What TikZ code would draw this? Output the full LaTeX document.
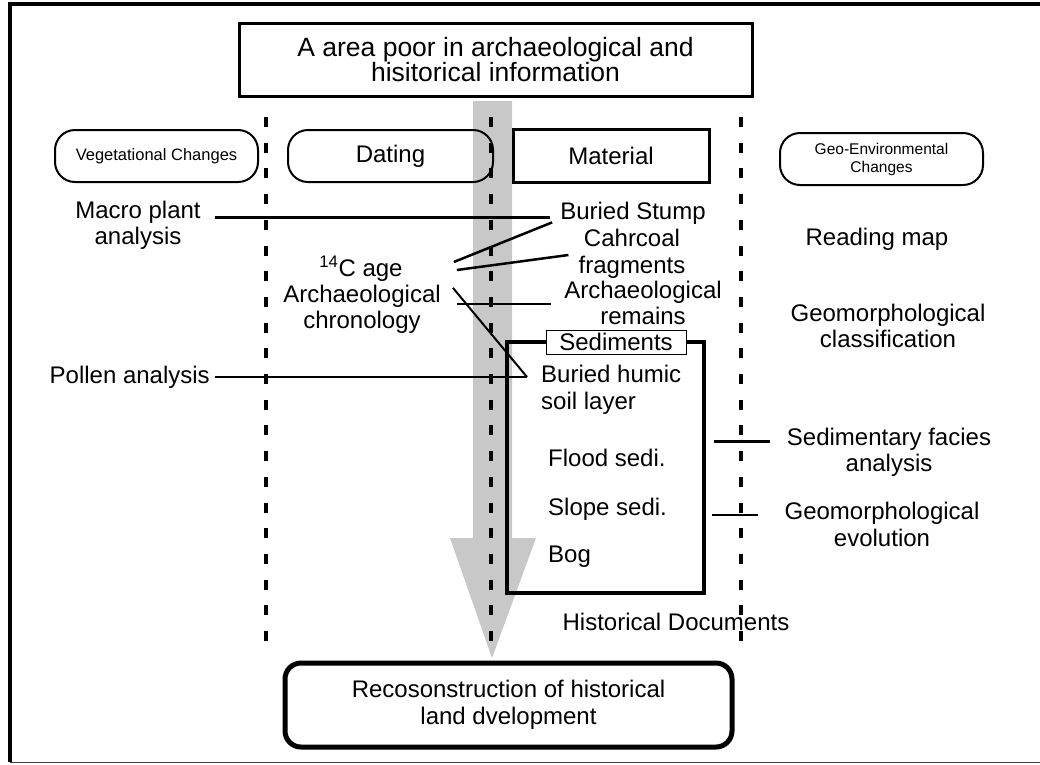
\documentclass[tikz,border=0pt]{standalone}
\usepackage{fontspec}
\setmainfont{Liberation Sans}
\usetikzlibrary{calc}
\definecolor{band}{RGB}{200,200,200}
\begin{document}
\begin{tikzpicture}[x=1pt,y=-1pt,
  txt/.style={inner sep=0pt, align=center, font=\fontsize{24}{26.5}\selectfont},
  smalltxt/.style={inner sep=0pt, align=center, font=\fontsize{16}{18}\selectfont},
  sepline/.style={line width=4pt, dash pattern=on 10pt off 15.7pt},
  roundbox/.style={draw, line width=2pt, rounded corners=20pt, minimum height=52pt, inner sep=0pt},
  sqbox/.style={draw, line width=3pt, inner sep=0pt},
  conn/.style={line width=2.5pt},
  thinconn/.style={line width=2pt},
]
\useasboundingbox (0,0) rectangle (1040,764);
% frame (left and top thick, bottom thin)
\draw[line width=3.5pt] (1040,4) -- (10,4) -- (10,762);
\draw[line width=1.5pt, black!75] (10,762.5) -- (1040,762.5);
% gray arrow
\fill[band] (473,101) -- (512,101) -- (512,538) -- (536,538) -- (492,658) -- (450,538) -- (473,538) -- cycle;
% separators
\draw[sepline] (266,117) -- (266,648);
\draw[sepline] (491,117) -- (491,648);
\draw[sepline] (741,117) -- (741,648);

% boxes
\node[sqbox, minimum width=513pt, minimum height=73pt, txt, font=\fontsize{26.5}{25}\selectfont] (top) at (495.5,59.5) {A area poor in archaeological and\\hisitorical information};
\node[roundbox, minimum width=203pt, smalltxt, font=\fontsize{16.5}{18}\selectfont] (veg) at (156.5,156) {Vegetational Changes};
\node[roundbox, minimum width=205pt, txt] (dating) at (390.5,156) {Dating};
\node[sqbox, minimum width=196pt, minimum height=53pt, txt] (material) at (611,155.5) {Material};
\node[roundbox, minimum width=203pt, smalltxt, font=\fontsize{15.5}{18}\selectfont] (geo) at (881.5,159) {Geo-Environmental\\Changes};
\node[draw, line width=4pt, minimum width=197pt, minimum height=251pt, inner sep=0pt] (sed) at (605.5,467.5) {};
\node[draw, line width=1pt, fill=white, minimum width=140pt, minimum height=24pt, inner sep=0pt, txt] (sedlabel) at (616,342) {Sediments};
\node[draw, line width=5pt, rounded corners=16pt, minimum width=447pt, minimum height=84pt, inner sep=0pt, txt] (recon) at (508.5,705) {Recosonstruction of historical\\land dvelopment};

% texts
\node[txt] (macro) at (138,225.5) {Macro plant\\analysis};
\node[txt, anchor=east] (pollen) at (210,377) {Pollen analysis};
\node[txt] (c14) at (361,269) {\textsuperscript{14}C age};
\node[txt] (chron) at (362,309.5) {Archaeological\\chronology};
\node[txt] (stump) at (633,213) {Buried Stump};
\node[txt] (charcoal) at (632,254) {Cahrcoal\\fragments};
\node[txt] (remains) at (643,303) {Archaeological\\remains};
\node[txt, anchor=west, align=left] (humic) at (541,390) {Buried humic\\soil layer};
\node[txt, anchor=west] (flood) at (548,458) {Flood sedi.};
\node[txt, anchor=west] (slope) at (548,509) {Slope sedi.};
\node[txt, anchor=west] (bog) at (548,557) {Bog};
\node[txt] (readmap) at (877,239) {Reading map};
\node[txt] (geoclass) at (888,326) {Geomorphological\\classification};
\node[txt] (sedfac) at (889,452.5) {Sedimentary facies\\analysis};
\node[txt] (geoevo) at (882,524.5) {Geomorphological\\evolution};
\node[txt] (histdoc) at (676,622) {Historical Documents};

% junction near buried humic soil layer
\coordinate (hj) at ($(humic.west)+(-14,-13)$);
\coordinate (sf) at ($(sed.north east)+(8,101)$);
\coordinate (ge) at ($(sed.north east)+(6,175)$);

% connectors
\draw[line width=3pt] ($(macro.east |- stump.west)+(14,4)$) -- ($(stump.west)+(-10,4)$);
\draw[conn] ($(c14.east)+(51,-7)$) -- ($(stump.south west)+(-8,-2)$);
\draw[conn] ($(c14.east)+(54,1)$) -- ($(charcoal.west)+(-10,1)$);
\draw[conn] ($(chron.east |- remains.west)+(16,1)$) -- ($(remains.west)+(-13,1)$);
\draw[thinconn] ($(chron.north east)+(12,3)$) -- (hj);
\draw[thinconn] ($(pollen.east)+(5,0)$) -- (hj);
\draw[line width=3pt] (sf) -- ($(sedfac.west |- sf)+(-17,0)$);
\draw[thinconn] (ge) -- ($(geoevo.west |- ge)+(-26,0)$);
\end{tikzpicture}
\end{document}
